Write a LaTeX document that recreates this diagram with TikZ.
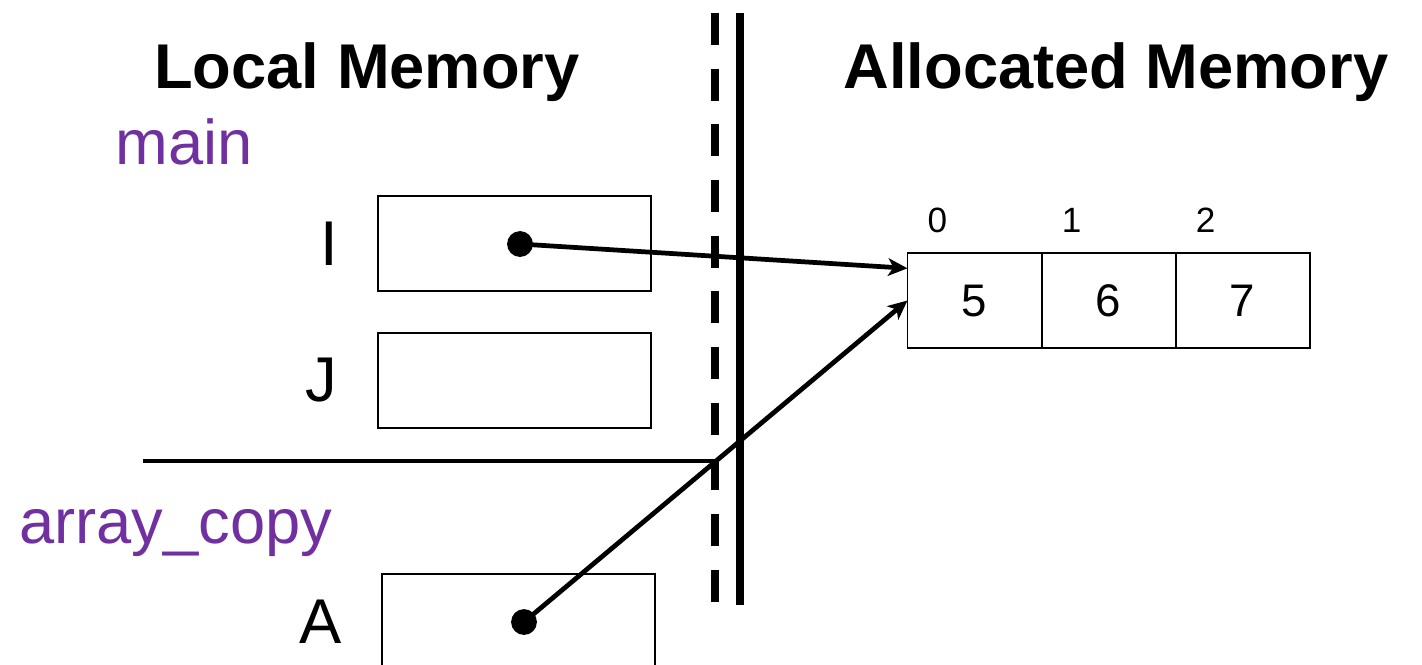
\documentclass[tikz,border=0pt]{standalone}
\usepackage{fontspec}
\setmainfont{Liberation Sans}
\usetikzlibrary{positioning,calc,arrows.meta}
\definecolor{funcpurple}{HTML}{7030A0}

\begin{document}
\begin{tikzpicture}[x = 0.02cm, y = -0.02cm,
    var/.style = {draw, line width=1.1pt, minimum width=155pt, minimum height=54.5pt, outer sep=0pt},
    cell/.style = {draw, line width=1.1pt, minimum width=76.3pt, minimum height=53.9pt, outer sep=0pt, font=\fontsize{26}{30}\selectfont},
    lbl/.style = {inner sep=0pt, font=\fontsize{36}{40}\selectfont},
    idx/.style = {inner sep=0pt, font=\fontsize{20}{24}\selectfont},
    title/.style = {inner sep=0pt, font=\fontsize{36}{40}\selectfont\bfseries},
    func/.style = {inner sep=0pt, text=funcpurple, font=\fontsize{36}{40}\selectfont},
    dot/.style = {circle, fill, inner sep=0pt, minimum size=14.7pt},
    ptr/.style = {line width=2.7pt, -{Stealth[length=11pt, width=10pt, inset=3pt]}}]
  \useasboundingbox (0,0) rectangle (1422,664);
  % headings
  \node[title, anchor=base] (local) at (367,88) {Local Memory};
  \node[title, anchor=base] (alloc) at (1116,88) {Allocated Memory};
  \node[func, anchor=base west] (main) at (115,164) {main};
  \node[func, anchor=base west] (copy) at (19,543) {array\_copy};
  % local variables
  \node[var] (boxI) at (514.5,243.5) {};
  \node[var] (boxJ) at (514.5,380.5) {};
  \node[var] (boxA) at (518.5,621.5) {};
  \node[lbl, left=23pt of boxI] (nameI) {I};
  \node[lbl, left=23pt of boxJ] (nameJ) {J};
  \node[lbl, left=23pt of boxA] (nameA) {A};
  \node[dot] (dotI) at (520,244) {};
  \node[dot] (dotA) at (524,622) {};
  % allocated array
  \node[cell] (c0) at (974.5,300.5) {5};
  \node[cell, right=0pt of c0] (c1) {6};
  \node[cell, right=0pt of c1] (c2) {7};
  \foreach \i in {0,1,2}
    \node[idx] (idx\i) at ($(c\i.north west)+(30,-33)$) {\i};
  % separators
  \coordinate (dashtop) at (715,13);
  \coordinate (dashbot) at (715,605);
  \coordinate (walltop) at (740,13);
  \coordinate (wallbot) at (740,605);
  \coordinate (frame) at (143,461);
  \draw[line width=4pt, dash pattern=on 18.1pt off 13.6pt] (dashtop) -- (dashbot);
  \draw[line width=4pt] (walltop) -- (wallbot);
  \draw[line width=2.8pt] (frame) -- (frame -| dashtop);
  % pointers
  \draw[ptr] (dotI.center) -- ($(c0.north west)!0.16!(c0.south west)$);
  \draw[ptr] (dotA.center) -- (c0.west);
\end{tikzpicture}
\end{document}
